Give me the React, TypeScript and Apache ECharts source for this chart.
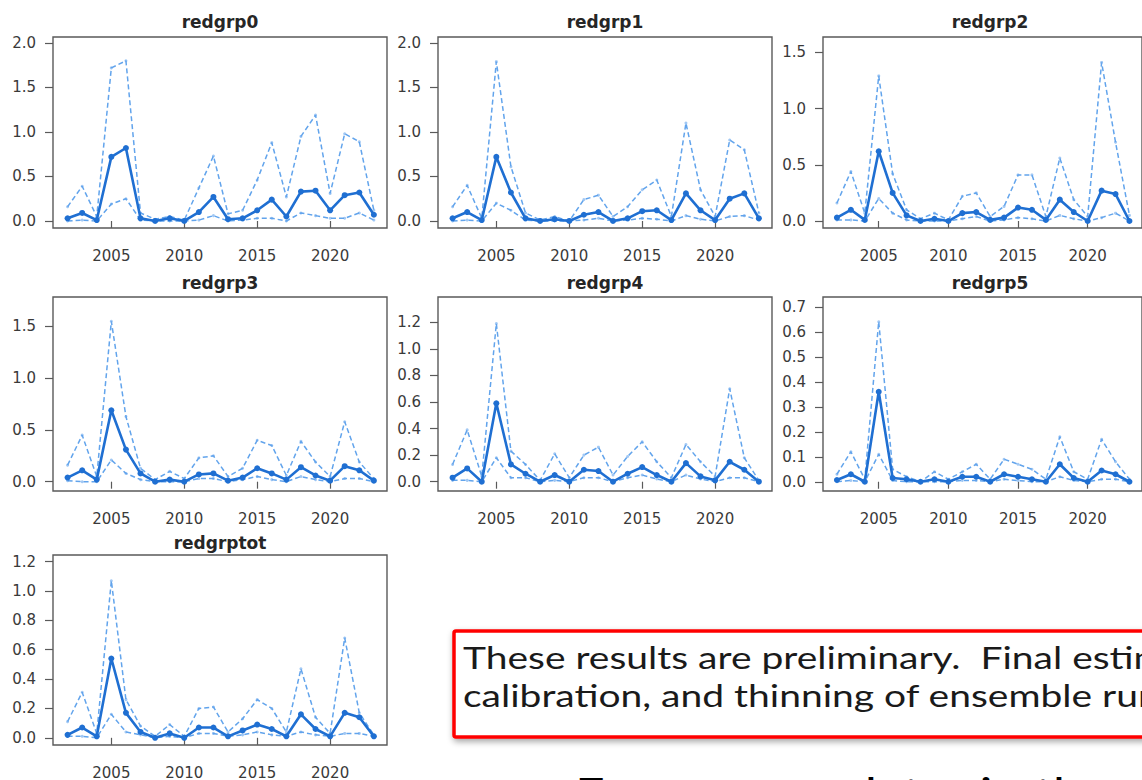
import React, { useEffect, useRef } from "react";
import * as echarts from "echarts";

const years = [2002, 2003, 2004, 2005, 2006, 2007, 2008, 2009, 2010, 2011, 2012, 2013, 2014, 2015, 2016, 2017, 2018, 2019, 2020, 2021, 2022, 2023];
const xTickYears = [2005, 2010, 2015, 2020];

const panelNames = ["redgrp0", "redgrp1", "redgrp2", "redgrp3", "redgrp4", "redgrp5", "redgrptot"];

const med0 = [0.03, 0.09, 0.01, 0.72, 0.82, 0.03, 0.0, 0.03, 0.0, 0.10, 0.27, 0.02, 0.03, 0.12, 0.24, 0.05, 0.33, 0.34, 0.12, 0.29, 0.32, 0.07];
const up0 = [0.16, 0.39, 0.05, 1.72, 1.80, 0.09, 0.02, 0.05, 0.01, 0.37, 0.73, 0.08, 0.12, 0.46, 0.88, 0.27, 0.95, 1.19, 0.31, 0.98, 0.89, 0.12];
const lo0 = [0.0, 0.01, 0.0, 0.19, 0.25, 0.01, 0.0, 0.0, 0.0, 0.01, 0.06, 0.0, 0.01, 0.03, 0.03, 0.0, 0.09, 0.06, 0.03, 0.03, 0.09, 0.01];

const med1 = [0.03, 0.10, 0.01, 0.72, 0.32, 0.03, 0.0, 0.02, 0.0, 0.07, 0.10, 0.0, 0.03, 0.11, 0.12, 0.01, 0.31, 0.12, 0.01, 0.25, 0.31, 0.03];
const up1 = [0.16, 0.40, 0.03, 1.79, 0.61, 0.09, 0.01, 0.05, 0.0, 0.24, 0.29, 0.05, 0.16, 0.35, 0.46, 0.05, 1.10, 0.35, 0.05, 0.91, 0.80, 0.09];
const lo1 = [0.0, 0.01, 0.0, 0.20, 0.12, 0.01, 0.0, 0.0, 0.0, 0.01, 0.03, 0.0, 0.01, 0.03, 0.02, 0.0, 0.06, 0.02, 0.0, 0.05, 0.06, 0.01];

const med2 = [0.03, 0.10, 0.01, 0.62, 0.25, 0.05, 0.0, 0.02, 0.0, 0.07, 0.08, 0.01, 0.03, 0.12, 0.10, 0.01, 0.19, 0.08, 0.0, 0.27, 0.24, 0.0];
const up2 = [0.16, 0.44, 0.07, 1.29, 0.42, 0.10, 0.02, 0.07, 0.01, 0.22, 0.25, 0.04, 0.13, 0.41, 0.41, 0.04, 0.56, 0.19, 0.04, 1.41, 0.70, 0.05];
const lo2 = [0.01, 0.01, 0.0, 0.20, 0.07, 0.01, 0.0, 0.0, 0.0, 0.02, 0.04, 0.0, 0.01, 0.03, 0.02, 0.0, 0.05, 0.02, 0.0, 0.03, 0.07, 0.0];

const med3 = [0.04, 0.11, 0.02, 0.69, 0.31, 0.08, 0.0, 0.02, 0.0, 0.07, 0.08, 0.01, 0.04, 0.13, 0.08, 0.02, 0.14, 0.06, 0.01, 0.15, 0.11, 0.01];
const up3 = [0.16, 0.45, 0.05, 1.55, 0.63, 0.13, 0.02, 0.10, 0.03, 0.23, 0.25, 0.05, 0.13, 0.40, 0.35, 0.06, 0.39, 0.19, 0.05, 0.58, 0.19, 0.03];
const lo3 = [0.01, 0.0, 0.0, 0.21, 0.08, 0.02, 0.0, 0.0, 0.0, 0.03, 0.03, 0.0, 0.02, 0.05, 0.02, 0.0, 0.05, 0.02, 0.0, 0.03, 0.03, 0.0];

const med4 = [0.03, 0.10, 0.0, 0.59, 0.13, 0.06, 0.0, 0.05, 0.0, 0.09, 0.08, 0.0, 0.06, 0.11, 0.05, 0.0, 0.14, 0.04, 0.01, 0.15, 0.09, 0.0];
const up4 = [0.13, 0.39, 0.04, 1.19, 0.23, 0.13, 0.01, 0.21, 0.03, 0.20, 0.26, 0.05, 0.19, 0.30, 0.15, 0.03, 0.28, 0.15, 0.04, 0.70, 0.18, 0.01];
const lo4 = [0.01, 0.01, 0.0, 0.18, 0.03, 0.03, 0.0, 0.01, 0.0, 0.03, 0.03, 0.0, 0.03, 0.05, 0.02, 0.0, 0.05, 0.02, 0.0, 0.03, 0.03, 0.0];

const med5 = [0.007, 0.03, 0.0, 0.36, 0.015, 0.01, 0.0, 0.01, 0.0, 0.02, 0.02, 0.0, 0.03, 0.02, 0.01, 0.0, 0.07, 0.015, 0.0, 0.045, 0.03, 0.0];
const up5 = [0.03, 0.12, 0.01, 0.64, 0.05, 0.02, 0.0, 0.04, 0.01, 0.04, 0.07, 0.01, 0.09, 0.07, 0.05, 0.01, 0.18, 0.04, 0.01, 0.17, 0.08, 0.01];
const lo5 = [0.0, 0.005, 0.0, 0.11, 0.005, 0.0, 0.0, 0.0, 0.0, 0.005, 0.005, 0.0, 0.01, 0.005, 0.0, 0.0, 0.02, 0.005, 0.0, 0.01, 0.01, 0.0];

const medT = [0.02, 0.07, 0.01, 0.54, 0.17, 0.04, 0.0, 0.03, 0.0, 0.07, 0.07, 0.01, 0.05, 0.09, 0.06, 0.01, 0.16, 0.06, 0.01, 0.17, 0.14, 0.01];
const upT = [0.11, 0.31, 0.03, 1.07, 0.26, 0.08, 0.01, 0.09, 0.01, 0.20, 0.21, 0.04, 0.13, 0.26, 0.20, 0.04, 0.47, 0.14, 0.03, 0.68, 0.17, 0.02];
const loT = [0.01, 0.01, 0.0, 0.16, 0.04, 0.02, 0.0, 0.01, 0.0, 0.03, 0.03, 0.01, 0.02, 0.04, 0.02, 0.01, 0.04, 0.02, 0.01, 0.03, 0.03, 0.01];

const medians = [med0, med1, med2, med3, med4, med5, medT];
const uppers = [up0, up1, up2, up3, up4, up5, upT];
const lowers = [lo0, lo1, lo2, lo3, lo4, lo5, loT];

const yTicks0 = [0, 0.5, 1.0, 1.5, 2.0];
const yTicks2 = [0, 0.5, 1.0, 1.5];
const yTicks4 = [0, 0.2, 0.4, 0.6, 0.8, 1.0, 1.2];
const yTicks5 = [0, 0.1, 0.2, 0.3, 0.4, 0.5, 0.6, 0.7];
const yTickSets = [yTicks0, yTicks0, yTicks2, yTicks2, yTicks4, yTicks5, yTicks4];

const yMins = [-0.079, -0.079, -0.062, -0.09, -0.07, -0.037, -0.049];
const yMaxs = [2.067, 2.067, 1.636, 1.785, 1.39, 0.739, 1.245];

const boxText1 = "These results are preliminary.  Final estimates await further";
const boxText2 = "calibration, and thinning of ensemble runs.";
const bottomText = "Fewer cases later in the series";

// layout (pixels)
const colLeft = [53, 438, 823, 53, 438, 823, 53];
const rowTop = [37, 37, 37, 297, 297, 297, 555];
const boxW = 334;
const rowH = [191, 191, 191, 194, 194, 194, 194];
const titleY = [22, 22, 22, 283, 283, 283, 543];

const MED = "#1f6fd2";
const BAND = "#62a4ec";
const FONT = '"DejaVu Sans", "Liberation Sans", Arial, sans-serif';

export default function App() {
  const ref = useRef<HTMLDivElement>(null);
  useEffect(() => {
    if (!ref.current) return;
    const chart = echarts.init(ref.current, null, { renderer: "svg" });
    const grids: any[] = [];
    const xAxes: any[] = [];
    const yAxes: any[] = [];
    const series: any[] = [];
    const graphics: any[] = [];
    panelNames.forEach((name, i) => {
      grids.push({
        left: colLeft[i],
        top: rowTop[i],
        width: boxW,
        height: rowH[i],
        show: true,
        borderColor: "#5a5a5a",
        borderWidth: 1.4,
        backgroundColor: "#fff",
        containLabel: false,
      });
      xAxes.push({
        type: "value",
        gridIndex: i,
        min: 2001.0,
        max: 2023.9,
        axisLine: { show: false },
        splitLine: { show: false },
        axisTick: { show: true, length: 7, lineStyle: { color: "#5a5a5a", width: 1.2 }, customValues: xTickYears },
        axisLabel: { customValues: xTickYears, margin: 20, fontSize: 15, color: "#3a3a3a", fontFamily: FONT, formatter: (v: number) => String(v) },
      });
      yAxes.push({
        type: "value",
        gridIndex: i,
        min: yMins[i],
        max: yMaxs[i],
        axisLine: { show: false },
        splitLine: { show: false },
        axisTick: { show: true, length: 8, lineStyle: { color: "#5a5a5a", width: 1.2 }, customValues: yTickSets[i] },
        axisLabel: { customValues: yTickSets[i], margin: 17, fontSize: 15, color: "#3a3a3a", fontFamily: FONT, formatter: (v: number) => v.toFixed(1) },
      });
      const mk = (arr: number[]) => arr.map((v, k) => [years[k], v]);
      series.push({
        type: "line",
        xAxisIndex: i,
        yAxisIndex: i,
        data: mk(uppers[i]),
        lineStyle: { color: BAND, width: 1.5, type: [5, 3] },
        itemStyle: { color: BAND, opacity: 0.6 },
        symbol: "circle",
        symbolSize: 3,
        z: 2,
      });
      series.push({
        type: "line",
        xAxisIndex: i,
        yAxisIndex: i,
        data: mk(lowers[i]),
        lineStyle: { color: BAND, width: 1.5, type: [5, 3] },
        itemStyle: { color: BAND, opacity: 0.6 },
        symbol: "circle",
        symbolSize: 3,
        z: 2,
      });
      series.push({
        type: "line",
        xAxisIndex: i,
        yAxisIndex: i,
        data: mk(medians[i]),
        lineStyle: { color: MED, width: 2.6 },
        itemStyle: { color: MED },
        symbol: "circle",
        symbolSize: 6,
        z: 3,
      });
      graphics.push({
        type: "text",
        x: colLeft[i] + boxW / 2,
        y: titleY[i],
        style: { text: name, font: 'bold 17px ' + FONT, fill: "#262626", align: "center", verticalAlign: "middle" },
      });
    });
    graphics.push({
      type: "rect",
      shape: { x: 454, y: 631, width: 760, height: 106, r: 2 },
      style: { fill: "#ffffff", stroke: "#ff0000", lineWidth: 3.5, shadowBlur: 6, shadowOffsetX: 1, shadowOffsetY: 3, shadowColor: "rgba(0,0,0,0.35)" },
      z: 10,
    });
    graphics.push({
      type: "text",
      x: 463,
      y: 657,
      scaleX: 1.3,
      style: { text: boxText1, font: '30px Lato, "Open Sans", sans-serif', fill: "#1a1a1a", align: "left", verticalAlign: "middle" },
      z: 11,
    });
    graphics.push({
      type: "text",
      x: 463,
      y: 695,
      scaleX: 1.3,
      style: { text: boxText2, font: '30px Lato, "Open Sans", sans-serif', fill: "#1a1a1a", align: "left", verticalAlign: "middle" },
      z: 11,
    });
    graphics.push({
      type: "text",
      x: 575,
      y: 791,
      scaleX: 1.3,
      style: { text: bottomText, font: '40px Lato, "Open Sans", sans-serif', fill: "#000000", align: "left", verticalAlign: "middle" },
      z: 11,
    });
    chart.setOption({
      animation: false,
      backgroundColor: "#ffffff",
      grid: grids,
      xAxis: xAxes,
      yAxis: yAxes,
      series,
      graphic: { elements: graphics },
    });
    return () => chart.dispose();
  }, []);
  return (
    <div
      ref={ref}
      style={{ position: "fixed", left: 0, top: 0, width: 1142, height: 780, background: "#fff" }}
    />
  );
}
